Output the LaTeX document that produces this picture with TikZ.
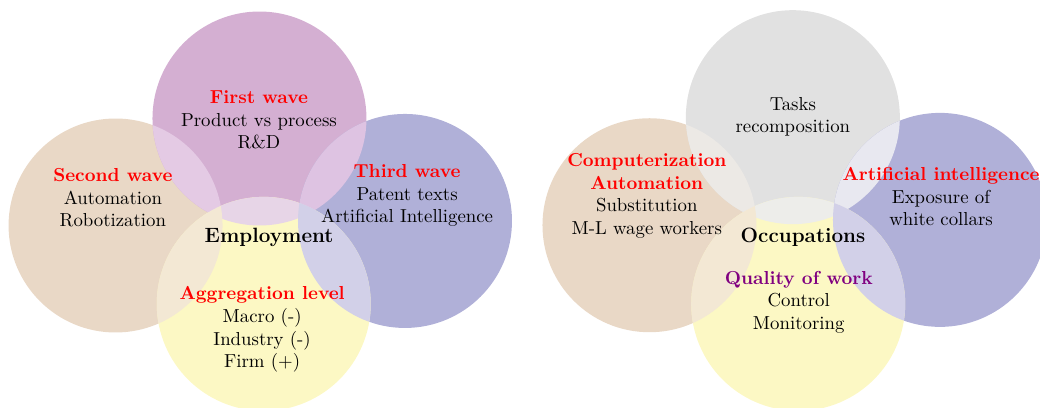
\documentclass[tikz,border=0pt]{standalone}
\definecolor{tancol}{RGB}{233,216,198}
\definecolor{purcol}{RGB}{212,175,210}
\definecolor{bluecol}{RGB}{176,176,216}
\definecolor{yelcol}{RGB}{252,248,196}
\definecolor{greycol}{RGB}{225,225,225}
\definecolor{pltcol}{RGB}{228,202,228}
\definecolor{prtcol}{RGB}{222,195,226}
\definecolor{pbtcol}{RGB}{231,213,231}
\definecolor{ylcol}{RGB}{243,232,212}
\definecolor{yrcol}{RGB}{210,208,232}
\definecolor{glcol}{RGB}{236,233,229}
\definecolor{grcol}{RGB}{232,232,240}
\definecolor{gbcol}{RGB}{237,237,234}
\definecolor{qualcol}{RGB}{128,0,128}
\begin{document}
\begin{tikzpicture}[
    txt/.style={align=center},
    mid/.style={font=\fontsize{11}{13}\selectfont\bfseries}]
  \useasboundingbox (0,0) rectangle (19.44,-7.626);
  \coordinate (eT) at (4.85,-2.215);
  \coordinate (eL) at (2.16,-4.215);
  \coordinate (eR) at (7.57,-4.13);
  \coordinate (eB) at (4.93,-5.68);
  \coordinate (oT) at (14.82,-2.19);
  \coordinate (oL) at (12.14,-4.21);
  \coordinate (oR) at (17.57,-4.11);
  \coordinate (oB) at (14.92,-5.68);
  % employment
  \fill[tancol] (eL) circle (2);
  \fill[purcol] (eT) circle (2);
  \fill[bluecol] (eR) circle (2);
  \fill[yelcol] (eB) circle (2);
  \begin{scope}
    \clip (eT) circle (2);
    \fill[pltcol] (eL) circle (2);
    \fill[prtcol] (eR) circle (2);
    \fill[pbtcol] (eB) circle (2);
  \end{scope}
  \begin{scope}
    \clip (eB) circle (2);
    \fill[ylcol] (eL) circle (2);
    \fill[yrcol] (eR) circle (2);
  \end{scope}
  % occupations
  \fill[tancol] (oL) circle (2);
  \fill[greycol] (oT) circle (2);
  \fill[bluecol] (oR) circle (2);
  \fill[yelcol] (oB) circle (2);
  \begin{scope}
    \clip (oT) circle (2);
    \fill[glcol] (oL) circle (2);
    \fill[grcol] (oR) circle (2);
    \fill[gbcol] (oB) circle (2);
  \end{scope}
  \begin{scope}
    \clip (oB) circle (2);
    \fill[ylcol] (oL) circle (2);
    \fill[yrcol] (oR) circle (2);
  \end{scope}
  \node[txt] (first) at (4.84,-2.243)
    {\textcolor{red}{\textbf{First wave}}\\Product vs process\\R\&D};
  \node[txt] (second) at (2.11,-3.70)
    {\textcolor{red}{\textbf{Second wave}}\\Automation\\Robotization};
  \node[txt] (third) at (7.61,-3.66)
    {\textcolor{red}{\textbf{Third wave}}\\Patent texts\\Artificial Intelligence};
  \node[mid] (empl) at (5.03,-4.43) {Employment};
  \node[txt] (aggr) at (4.90,-6.16)
    {\textcolor{red}{\textbf{Aggregation level}}\\Macro (-)\\Industry (-)\\Firm (+)};
  \node[txt] (tasks) at (14.82,-2.18) {Tasks\\recomposition};
  \node[txt] (comp) at (12.09,-3.66)
    {\textcolor{red}{\textbf{Computerization}}\\\textcolor{red}{\textbf{Automation}}\\Substitution\\M-L wage workers};
  \node[txt] (ai) at (17.59,-3.68)
    {\textcolor{red}{\textbf{Artificial intelligence}}\\Exposure of\\white collars};
  \node[mid] (occ) at (15.01,-4.43) {Occupations};
  \node[txt] (qual) at (14.93,-5.645)
    {\textcolor{qualcol}{\textbf{Quality of work}}\\Control\\Monitoring};
\end{tikzpicture}
\end{document}
